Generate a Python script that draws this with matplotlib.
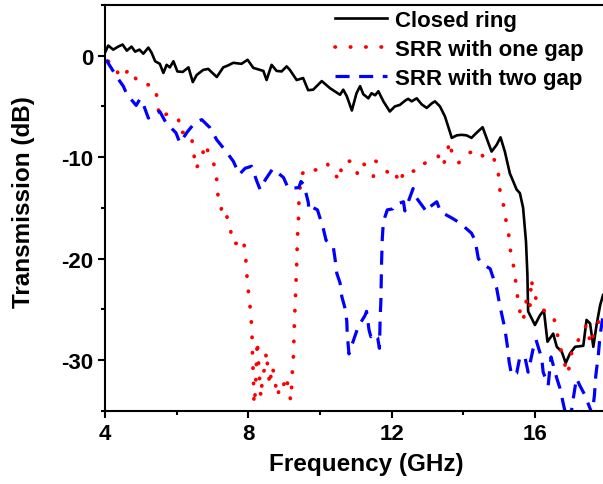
import numpy as np
import matplotlib
matplotlib.use("Agg")
import matplotlib.pyplot as plt
from matplotlib.ticker import MultipleLocator

# ==========================================================
# DATA
# ==========================================================

freq_closed = [4.00, 4.09, 4.23, 4.37, 4.49, 4.61, 4.74, 4.84, 4.96, 5.07,
               5.21, 5.30, 5.40, 5.53, 5.63, 5.72, 5.81, 5.91, 6.02, 6.17,
               6.33, 6.45, 6.56, 6.74, 6.88, 7.12, 7.30, 7.44, 7.58, 7.81,
               7.98, 8.14, 8.42, 8.51, 8.65, 8.79, 8.93, 9.07, 9.16, 9.35,
               9.53, 9.67, 9.81, 10.05, 10.28, 10.56, 10.65, 10.75, 10.89, 11.02,
               11.12, 11.21, 11.35, 11.44, 11.54, 11.63, 11.77, 11.95, 12.09, 12.23,
               12.37, 12.46, 12.56, 12.70, 12.84, 12.98, 13.12, 13.21, 13.35, 13.49,
               13.68, 13.82, 13.95, 14.09, 14.23, 14.37, 14.54, 14.70, 14.79, 14.93,
               15.04, 15.16, 15.30, 15.49, 15.58, 15.67, 15.75, 15.79, 15.81, 16.00,
               16.14, 16.25, 16.35, 16.51, 16.61, 16.75, 16.86, 16.98, 17.12, 17.35,
               17.44, 17.54, 17.63, 17.72, 17.82, 17.90]
trans_closed = [0.3, 1.0, 0.6, 0.9, 1.1, 0.5, 0.9, 0.4, 0.6, 0.2,
                0.8, 0.3, -0.55, -0.8, -1.7, -0.9, -1.15, -0.55, -1.55, -1.6,
                -1.15, -2.6, -1.9, -1.4, -1.3, -2.1, -1.15, -0.95, -0.7, -0.8,
                -0.4, -1.2, -1.5, -2.4, -0.9, -1.5, -1.55, -1.05, -1.4, -2.4,
                -2.2, -3.4, -3.35, -2.5, -3.2, -3.85, -3.35, -4.0, -5.4, -3.7,
                -3.0, -3.8, -4.2, -3.7, -3.9, -3.5, -4.5, -5.5, -5.0, -4.85,
                -4.45, -4.25, -4.5, -4.2, -4.8, -5.15, -4.7, -4.5, -5.0, -6.0,
                -8.1, -7.85, -7.8, -7.85, -8.1, -7.6, -7.05, -8.6, -9.45, -8.8,
                -8.05, -9.45, -11.6, -13.2, -13.55, -15.0, -18.3, -21.6, -25.2, -26.55,
                -25.6, -25.1, -28.2, -27.4, -28.7, -29.2, -30.3, -29.35, -28.7, -28.6,
                -26.05, -26.4, -28.7, -26.55, -24.6, -23.6]

freq_one = [4.09, 4.25, 4.42, 4.70, 4.93, 5.26, 5.42, 5.46, 5.53, 5.72,
            5.86, 6.05, 6.09, 6.30, 6.42, 6.48, 6.54, 6.70, 6.79, 6.93,
            7.09, 7.13, 7.16, 7.27, 7.21, 7.37, 7.50, 7.55, 7.76, 7.86,
            7.92, 7.95, 7.98, 8.03, 8.07, 8.10, 8.11, 8.12, 8.14, 8.16,
            8.20, 8.25, 8.30, 8.35, 8.40, 8.47, 8.50, 8.55, 8.60, 8.66,
            8.73, 8.80, 8.88, 8.95, 9.04, 9.10, 9.15, 9.18, 9.21, 9.23,
            9.26, 9.28, 9.30, 9.33, 9.35, 9.37, 9.40, 9.41, 9.44, 9.47,
            9.63, 9.83, 10.02, 10.20, 10.33, 10.46, 10.56, 10.60, 10.67, 10.89,
            11.07, 11.23, 11.40, 11.49, 11.56, 11.72, 11.94, 12.09, 12.21, 12.37,
            12.51, 12.72, 12.82, 12.98, 13.30, 13.42, 13.54, 13.61, 13.68, 13.86,
            14.14, 14.42, 14.65, 14.86, 14.98, 15.02, 15.12, 15.19, 15.27, 15.32,
            15.40, 15.46, 15.51, 15.58, 15.67, 15.77, 15.86, 15.90, 15.95, 16.11,
            16.25, 16.51, 16.61, 16.68, 16.75, 16.84, 16.92, 16.97, 17.05, 17.24,
            17.44, 17.56, 17.67, 17.86, 17.90]
trans_one = [-0.55, -0.8, -2.2, -1.3, -2.7, -2.9, -3.2, -4.7, -6.15, -5.75,
             -5.9, -6.15, -7.6, -7.5, -8.1, -9.7, -11.15, -10.1, -8.7, -9.9,
             -11.1, -12.7, -14.1, -14.8, -15.6, -15.5, -17.0, -18.5, -18.5, -18.1,
             -19.6, -21.1, -22.6, -24.0, -25.6, -27.0, -28.5, -30.0, -31.5, -34.4,
             -33.0, -28.1, -31.1, -33.7, -31.5, -30.7, -29.2, -31.0, -32.5, -30.6,
             -31.5, -33.6, -32.8, -33.1, -31.6, -32.4, -33.2, -34.0, -32.6, -31.1,
             -29.6, -27.0, -25.1, -22.5, -20.6, -18.0, -16.1, -14.6, -13.2, -11.8,
             -11.1, -11.3, -11.15, -10.6, -11.6, -11.9, -12.3, -10.8, -10.4, -10.4,
             -11.8, -10.7, -11.5, -11.9, -10.4, -10.8, -11.7, -11.4, -12.6, -11.25,
             -11.35, -11.4, -10.8, -10.5, -9.9, -10.9, -9.9, -8.45, -9.5, -10.6,
             -9.6, -9.3, -10.4, -10.2, -11.7, -13.2, -14.7, -16.2, -17.7, -19.3,
             -20.7, -22.2, -23.65, -25.2, -26.2, -23.9, -24.8, -22.0, -23.2, -24.7,
             -25.1, -25.6, -27.05, -28.6, -29.2, -30.5, -31.4, -30.4, -28.8, -27.9,
             -26.55, -28.5, -26.95, -25.7, -25.5]

freq_two = [4.03, 4.19, 4.35, 4.51, 4.61, 4.87, 4.98, 5.05, 5.21, 5.33,
            5.53, 5.70, 5.98, 6.09, 6.30, 6.51, 6.70, 6.93, 7.12, 7.35,
            7.58, 7.75, 7.91, 8.09, 8.23, 8.33, 8.48, 8.68, 8.98, 9.12,
            9.41, 9.47, 9.55, 9.67, 9.70, 9.82, 9.93, 10.09, 10.17, 10.37,
            10.42, 10.47, 10.56, 10.61, 10.70, 10.75, 10.76, 10.81, 10.86, 10.99,
            11.07, 11.26, 11.30, 11.37, 11.42, 11.47, 11.61, 11.66, 11.68, 11.70,
            11.71, 11.72, 11.74, 11.77, 11.88, 12.03, 12.09, 12.33, 12.37, 12.60,
            12.70, 12.98, 13.07, 13.26, 13.37, 13.68, 13.91, 14.23, 14.33, 14.42,
            14.56, 14.75, 14.93, 15.02, 15.16, 15.24, 15.28, 15.35, 15.49, 15.58,
            15.72, 15.81, 15.95, 16.03, 16.19, 16.23, 16.37, 16.45, 16.61, 16.70,
            16.80, 16.90, 17.00, 17.07, 17.16, 17.25, 17.40, 17.54, 17.60, 17.66,
            17.70, 17.77, 17.82, 17.89]
trans_two = [-0.4, -1.3, -2.2, -3.0, -3.8, -4.9, -4.25, -4.6, -6.15, -5.8,
             -5.5, -6.6, -7.6, -8.6, -7.5, -6.6, -6.3, -7.1, -8.3, -9.3,
             -10.4, -11.7, -11.1, -10.9, -12.3, -13.2, -12.2, -11.15, -12.0, -13.1,
             -13.0, -12.4, -12.7, -14.4, -15.3, -15.0, -15.2, -17.0, -18.2, -18.8,
             -20.0, -21.45, -22.4, -23.75, -24.9, -26.2, -27.4, -29.4, -28.85, -27.5,
             -26.7, -25.6, -25.2, -27.05, -27.7, -27.4, -27.8, -28.85, -25.9, -24.2,
             -22.3, -20.3, -18.0, -16.35, -15.2, -15.1, -14.7, -14.4, -15.3, -13.1,
             -14.05, -15.4, -14.9, -14.4, -15.4, -16.0, -16.5, -17.5, -18.2, -20.0,
             -20.6, -21.0, -22.9, -24.6, -26.9, -28.85, -30.2, -31.5, -31.3, -29.7,
             -29.7, -31.2, -28.9, -28.0, -29.85, -31.2, -32.5, -29.7, -31.8, -32.8,
             -34.45, -36.0, -35.5, -33.8, -31.8, -32.5, -33.5, -34.8, -35.3, -33.5,
             -31.5, -29.5, -27.5, -25.9]

labels = ["Closed ring", "SRR with one gap", "SRR with two gap"]

# ==========================================================
# PLOT
# ==========================================================

plt.rcParams["font.family"] = ["Liberation Sans", "DejaVu Sans"]
plt.rcParams["font.weight"] = "bold"
plt.rcParams["axes.unicode_minus"] = False

fig = plt.figure(figsize=(6.03, 4.85), dpi=100)
ax = fig.add_axes([105 / 603, 1 - 411.7 / 485, 498 / 603, 405.7 / 485])

ax.plot(freq_closed, trans_closed, color="black", lw=1.9, label=labels[0])
ax.plot(freq_one, trans_one, color="red", lw=2.7, linestyle=(0, (0.1, 4.0)),
        dash_capstyle="round", label=labels[1])
ax.plot(freq_two, trans_two, color="blue", lw=2.3, linestyle=(0, (4.4, 3.0)),
        label=labels[2])

ax.set_xlim(4, 17.9)
ax.set_ylim(-35, 5)
ax.xaxis.set_major_locator(MultipleLocator(4))
ax.xaxis.set_minor_locator(MultipleLocator(2))
ax.yaxis.set_major_locator(MultipleLocator(10))
ax.yaxis.set_minor_locator(MultipleLocator(5))

ax.tick_params(which="major", direction="out", length=5, width=1.5, labelsize=16)
ax.tick_params(which="minor", direction="out", length=3, width=1.5)
ax.tick_params(top=False, right=False)
for lbl in ax.get_xticklabels() + ax.get_yticklabels():
    lbl.set_fontweight("bold")

for side in ["left", "bottom", "top"]:
    ax.spines[side].set_linewidth(1.5)
ax.spines["right"].set_visible(False)

ax.set_xlabel("Frequency (GHz)", fontsize=17.5, fontweight="bold", labelpad=6)
ax.set_ylabel("Transmission (dB)", fontsize=17.5, fontweight="bold", labelpad=19)
ax.xaxis.label.set_x(0.524)
ax.yaxis.label.set_y(0.516)

ax.legend(loc="upper left", bbox_to_anchor=(335 / 603, 1 - 11 / 485),
          bbox_transform=fig.transFigure, frameon=False,
          prop={"size": 16, "weight": "bold"},
          handlelength=2.35, handletextpad=0.35, labelspacing=0.36,
          borderpad=0, borderaxespad=0)

fig.savefig("out.png", dpi=100)
